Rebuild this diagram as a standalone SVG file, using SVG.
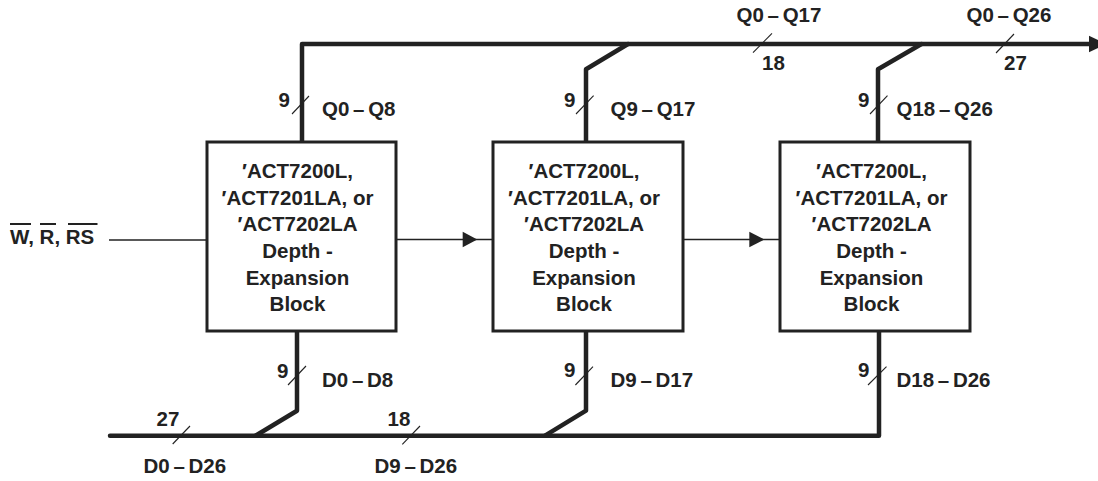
<svg xmlns="http://www.w3.org/2000/svg" width="1098" height="481" viewBox="0 0 1098 481">
<style>
text { font-family: "Liberation Sans", Arial, sans-serif; font-weight: bold; font-size: 20.5px; fill: #222; }
.blk { text-anchor: middle; }
.lbl { word-spacing: -2px; }
.box { fill: #fff; stroke: #222; stroke-width: 3; }
.bus { fill: none; stroke: #222; stroke-width: 4.5; stroke-linejoin: round; stroke-linecap: round; }
.sig { fill: none; stroke: #222; stroke-width: 1.3; }
.tick { fill: none; stroke: #222; stroke-width: 1.1; }
.bar { fill: none; stroke: #222; stroke-width: 2; }
.head { fill: #222; }
</style>
<rect width="1098" height="481" fill="#fff"/>
<g id="connectors">
  <path class="bus" d="M302,142 V44 H1091"/>
  <polygon class="head" points="1089,35.7 1106,44 1089,52.3"/>
  <path class="bus" d="M586,142 V69.3 L628,44"/>
  <path class="bus" d="M878,142 V69.3 L921.5,44"/>
  <path class="bus" d="M110,435.7 H879 V331"/>
  <path class="bus" d="M297,331 V410.7 L255.5,435.7"/>
  <path class="bus" d="M586,331 V410.7 L545,435.7"/>
  <path class="sig" d="M109,240 H207"/>
  <path class="sig" d="M396,239.5 H493"/>
  <polygon class="head" points="462.7,231.7 477.3,239.5 462.7,247.3"/>
  <path class="sig" d="M683,239.5 H780"/>
  <polygon class="head" points="749.3,231.7 764.3,239.5 749.3,247.3"/>
  <path class="tick" d="M292,114 L309,96"/>
  <path class="tick" d="M576,114 L593.6,95.7"/>
  <path class="tick" d="M870,114 L887.5,95.7"/>
  <path class="tick" d="M753,52.7 L772,33.3"/>
  <path class="tick" d="M996,53 L1014,34"/>
  <path class="tick" d="M288,385 L306,366"/>
  <path class="tick" d="M575.4,385 L593,366.7"/>
  <path class="tick" d="M868,385 L886.5,366.7"/>
  <path class="tick" d="M172.7,444 L190,426"/>
  <path class="tick" d="M402.3,444.3 L420,426"/>
</g>
<g id="block1">
  <rect class="box" x="207" y="142" width="189" height="189"/>
  <text class="blk" x="297.5" y="178">′ACT7200L,</text>
  <text class="blk" x="297.5" y="204.7">′ACT7201LA, or</text>
  <text class="blk" x="297.5" y="231.4">′ACT7202LA</text>
  <text class="blk" x="297.5" y="258">Depth -</text>
  <text class="blk" x="297.5" y="284.7">Expansion</text>
  <text class="blk" x="297.5" y="311.4">Block</text>
</g>
<g id="block2">
  <rect class="box" x="493" y="142" width="190" height="189"/>
  <text class="blk" x="584" y="178">′ACT7200L,</text>
  <text class="blk" x="584" y="204.7">′ACT7201LA, or</text>
  <text class="blk" x="584" y="231.4">′ACT7202LA</text>
  <text class="blk" x="584" y="258">Depth -</text>
  <text class="blk" x="584" y="284.7">Expansion</text>
  <text class="blk" x="584" y="311.4">Block</text>
</g>
<g id="block3">
  <rect class="box" x="780" y="142" width="190" height="189"/>
  <text class="blk" x="871.5" y="178">′ACT7200L,</text>
  <text class="blk" x="871.5" y="204.7">′ACT7201LA, or</text>
  <text class="blk" x="871.5" y="231.4">′ACT7202LA</text>
  <text class="blk" x="871.5" y="258">Depth -</text>
  <text class="blk" x="871.5" y="284.7">Expansion</text>
  <text class="blk" x="871.5" y="311.4">Block</text>
</g>
<g id="input">
  <text x="10" y="244">W, R, RS</text>
  <path class="bar" d="M10,224 H31 M40,224 H56 M68,224 H97.5"/>
</g>
<g id="labels">
  <text x="278.5" y="107">9</text>
  <text class="lbl" x="322" y="116">Q0 – Q8</text>
  <text x="564" y="107">9</text>
  <text class="lbl" x="610.5" y="116">Q9 – Q17</text>
  <text x="858" y="107">9</text>
  <text class="lbl" x="896.5" y="116">Q18 – Q26</text>
  <text class="lbl" x="736.5" y="21.5">Q0 – Q17</text>
  <text class="lbl" x="966.5" y="21.5">Q0 – Q26</text>
  <text x="762" y="70">18</text>
  <text x="1004" y="70">27</text>
  <text x="277" y="378">9</text>
  <text class="lbl" x="322" y="386.5">D0 – D8</text>
  <text x="564" y="377">9</text>
  <text class="lbl" x="610.5" y="386.5">D9 – D17</text>
  <text x="858" y="377">9</text>
  <text class="lbl" x="896.5" y="386.5">D18 – D26</text>
  <text x="156.5" y="426">27</text>
  <text x="387.5" y="426">18</text>
  <text class="lbl" x="143.5" y="473">D0 – D26</text>
  <text class="lbl" x="374.5" y="473">D9 – D26</text>
</g>
</svg>
